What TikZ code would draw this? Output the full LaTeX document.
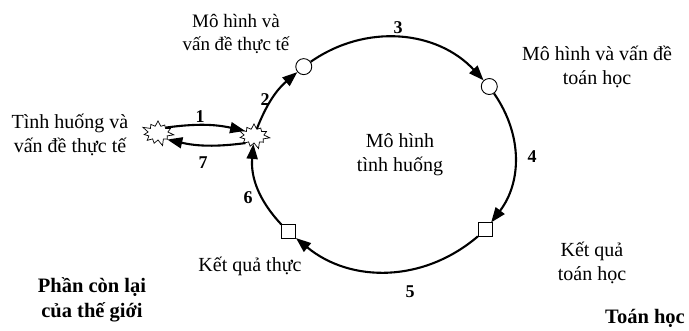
\documentclass[tikz,border=0pt]{standalone}
\usepackage{fontspec}
\setmainfont{Liberation Serif}
\usetikzlibrary{arrows.meta,shapes.symbols}
\begin{document}
\begin{tikzpicture}[x=1pt,y=1pt,
  flow/.style={line width=2.1pt, -{Triangle[length=15pt,width=11pt]}},
  lbl/.style={font=\fontsize{20}{24}\selectfont, align=center, inner sep=0pt},
  slbl/.style={font=\fontsize{19}{23.5}\selectfont, align=center, inner sep=0pt},
  blbl/.style={font=\fontsize{20.5}{25}\selectfont\bfseries, align=center, inner sep=0pt},
  num/.style={font=\fontsize{18}{20}\selectfont\bfseries, inner sep=0pt},
  ring/.style={circle, draw, line width=0.9pt, fill=white, minimum size=16pt, inner sep=0pt},
  sq/.style={rectangle, draw, line width=0.9pt, fill=white, minimum size=14pt, inner sep=0pt},
  boom/.style={starburst, draw, line width=0.7pt, fill=white, minimum width=34pt, minimum height=28pt, starburst points=11, starburst point height=7pt, inner sep=0pt}]
\useasboundingbox (0,0) rectangle (689,331);
% markers on the cycle (ellipse centre (386,175), radii 129 x 116)
\node[boom] (b) at (254,195) {};
\node[ring] (c1) at ({386+129*cos(129.6)},{175+116*sin(129.6)}) {};
\node[ring] (c2) at ({386+129*cos(36.8)},{175+116*sin(36.8)}) {};
\node[sq] (s1) at ({386+129*cos(-39.6)},{175+116*sin(-39.6)}) {};
\node[sq] (s2) at ({386+129*cos(220.9)},{175+116*sin(220.9)}) {};
\node[boom] (a) at (158,198) {};
% cycle arrows
\draw[flow] (b) to[bend left=14] (c1);
\draw[flow] (c1) to[bend left=41] (c2);
\draw[flow] (c2) to[bend left=36] (s1);
\draw[flow] (s1) to[bend left=40] (s2);
\draw[flow] (s2) to[bend left=24] (b);
\draw[flow] (a.35) to[bend left=10] (b.150);
\draw[flow] (b.-140) to[bend left=10] (a.-35);
% numbers
\node[num] (n1) at (200,214) {1};
\node[num] (n2) at (265,231) {2};
\node[num] (n3) at (398,303) {3};
\node[num] (n4) at (532,174) {4};
\node[num] (n5) at (410,39) {5};
\node[num] (n6) at (248,133) {6};
\node[num] (n7) at (203,168) {7};
% labels
\node[slbl] (t1) at (236,297) {Mô hình và\\vấn đề thực tế};
\node[lbl] (t2) at (597,264) {Mô hình và vấn đề\\toán học};
\node[lbl] (t3) at (70,196) {Tình huống và\\vấn đề thực tế};
\node[lbl] (t4) at (400,176) {Mô hình\\tình huống};
\node[lbl] (t5) at (592,68) {Kết quả\\toán học};
\node[lbl] (t6) at (250,65) {Kết quả thực};
\node[blbl] (t7) at (92,31) {Phần còn lại\\của thế giới};
\node[blbl] (t8) at (645,13) {Toán học};
\end{tikzpicture}
\end{document}
